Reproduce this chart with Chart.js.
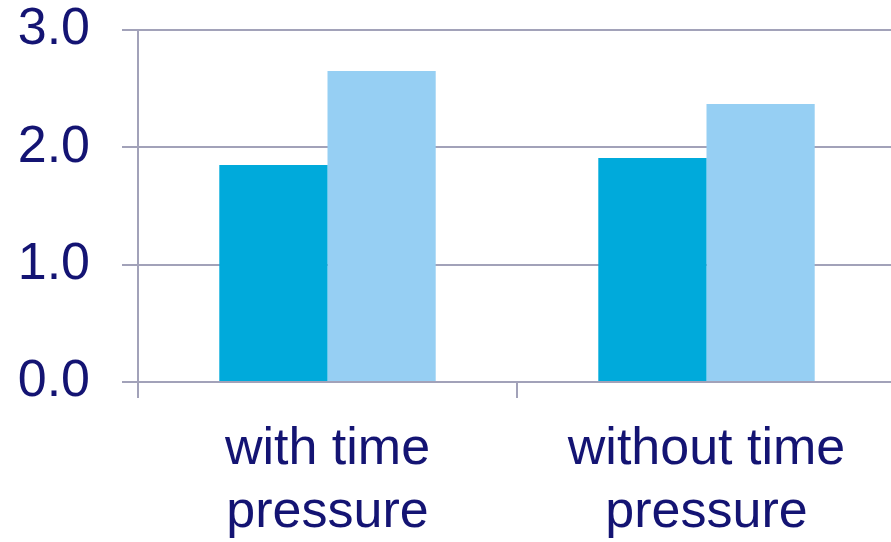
<!DOCTYPE html>
<html>
<head>
<meta charset="utf-8">
<script src="https://cdn.jsdelivr.net/npm/chart.js@4/dist/chart.umd.min.js"></script>
<style>
  html, body { margin: 0; padding: 0; background: #ffffff; overflow: hidden; }
  #wrap { width: 896px; height: 542px; }
</style>
</head>
<body>
<div id="wrap"><canvas id="chart" width="896" height="542"></canvas></div>
<script>
// Category labels (two lines each)
const categories = [
  ['with time', 'pressure'],
  ['without time', 'pressure']
];
// Bar values per series
const seriesA = [1.85, 1.91];
const seriesB = [2.65, 2.37];
// Value axis tick labels
const yTickLabels = ['0.0', '1.0', '2.0', '3.0'];

const axisColor = '#A2A2B9';
const textColor = '#141473';
const font = { family: 'Liberation Sans, Arial, sans-serif', size: 52 };

new Chart(document.getElementById('chart'), {
  type: 'bar',
  data: {
    labels: categories,
    datasets: [
      { label: 'A', data: seriesA, backgroundColor: '#00AADB', borderWidth: 0 },
      { label: 'B', data: seriesB, backgroundColor: '#96CFF3', borderWidth: 0 }
    ]
  },
  options: {
    responsive: false,
    animation: false,
    events: [],
    layout: { padding: 0 },
    plugins: { legend: { display: false }, tooltip: { enabled: false } },
    datasets: { bar: { categoryPercentage: 0.571, barPercentage: 1.0 } },
    scales: {
      x: {
        afterFit: s => { s.height = 160; s.paddingLeft = 0; s.paddingRight = 0; },
        grid: {
          offset: true,
          drawOnChartArea: false,
          drawTicks: true,
          tickLength: 16,
          color: axisColor,
          lineWidth: 2
        },
        border: { color: axisColor, width: 2 },
        ticks: {
          color: textColor,
          font: { ...font, lineHeight: 1.21 },
          padding: 20,
          maxRotation: 0,
          autoSkip: false
        }
      },
      y: {
        min: 0,
        max: 3,
        afterFit: s => { s.width = 138; s.paddingTop = 30; s.paddingBottom = 0; },
        grid: {
          drawTicks: true,
          tickLength: 16,
          color: axisColor,
          lineWidth: 2
        },
        border: { color: axisColor, width: 2 },
        ticks: {
          stepSize: 1,
          color: textColor,
          font: font,
          padding: 32,
          callback: (v) => yTickLabels[Math.round(v)]
        }
      }
    }
  }
});
</script>
</body>
</html>
